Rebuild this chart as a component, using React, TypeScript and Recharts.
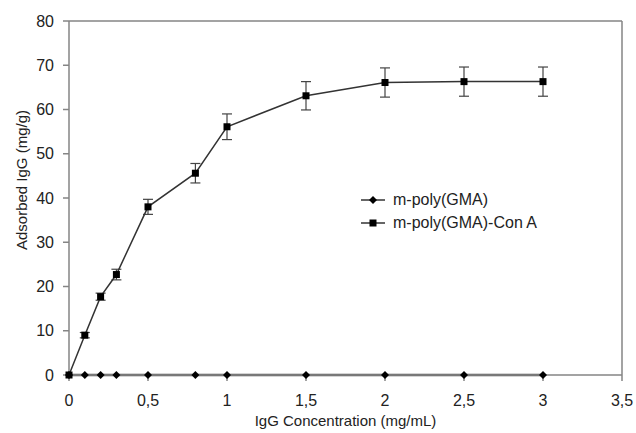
import { ErrorBar, Label, Line, LineChart, ReferenceLine, XAxis, YAxis } from "recharts";

// IgG adsorption isotherm for the two bead types
const concentrations = [0, 0.1, 0.2, 0.3, 0.5, 0.8, 1, 1.5, 2, 2.5, 3];
const adsorbedPlain = [0, 0, 0, 0, 0, 0, 0, 0, 0, 0, 0];
const adsorbedConA = [0, 9, 17.7, 22.7, 38, 45.6, 56.1, 63.1, 66.1, 66.3, 66.3];
const conAError = [0, 0.6, 0.8, 1.2, 1.7, 2.2, 2.9, 3.2, 3.3, 3.3, 3.3];

const xTicks = [0, 0.5, 1, 1.5, 2, 2.5, 3, 3.5];
const yTicks = [0, 10, 20, 30, 40, 50, 60, 70, 80];

const seriesNames = ["m-poly(GMA)", "m-poly(GMA)-Con A"];

const chartData = concentrations.map((c, i) => ({
  c,
  plain: adsorbedPlain[i],
  conA: adsorbedConA[i],
  conAErr: conAError[i],
}));

const FONT = "'Liberation Sans', Arial, sans-serif";
const AXIS = "#858585";
const INK = "#222";

const fmtComma = (v: number) => String(v).replace(".", ",");

function Diamond({ cx, cy }: { cx?: number; cy?: number }) {
  if (cx == null || cy == null) return null;
  const r = 4;
  return <path d={`M${cx},${cy - r}L${cx + r},${cy}L${cx},${cy + r}L${cx - r},${cy}Z`} fill="#000" />;
}

function Square({ cx, cy }: { cx?: number; cy?: number }) {
  if (cx == null || cy == null) return null;
  const s = 7;
  return <rect x={cx - s / 2} y={cy - s / 2} width={s} height={s} fill="#000" />;
}

function LegendBox() {
  const rows = [
    { name: seriesNames[0], Mark: Diamond },
    { name: seriesNames[1], Mark: Square },
  ];
  return (
    <div
      style={{
        position: "absolute",
        left: 359,
        top: 188,
        fontFamily: FONT,
        fontSize: 16,
        color: INK,
      }}
    >
      {rows.map(({ name, Mark }) => (
        <div key={name} style={{ display: "flex", alignItems: "center", height: 23 }}>
          <svg width={30} height={12} style={{ marginRight: 4 }}>
            <line x1={2} y1={6} x2={26} y2={6} stroke="#333" strokeWidth={1.5} />
            <Mark cx={14} cy={6} />
          </svg>
          <span>{name}</span>
        </div>
      ))}
    </div>
  );
}

export default function App() {
  return (
    <div style={{ position: "absolute", left: 0, top: 0, width: 636, height: 433, background: "#fff" }}>
      <LineChart
        width={636}
        height={433}
        data={chartData}
        margin={{ top: 21, right: 14, left: 9, bottom: 8 }}
      >
        <XAxis
          dataKey="c"
          type="number"
          domain={[0, 3.5]}
          ticks={xTicks}
          tickFormatter={fmtComma}
          stroke={AXIS}
          strokeWidth={1.5}
          tickSize={6}
          tickMargin={14}
          height={50}
          tick={{ fill: INK, fontSize: 16, fontFamily: FONT }}
        >
          <Label
            value="IgG Concentration (mg/mL)"
            position="insideBottom"
            offset={-1}
            style={{ fill: INK, fontSize: 15, fontFamily: FONT }}
          />
        </XAxis>
        <YAxis
          type="number"
          domain={[0, 80]}
          ticks={yTicks}
          width={60}
          stroke={AXIS}
          strokeWidth={1.5}
          tickSize={6}
          tickMargin={9}
          tick={{ fill: INK, fontSize: 16, fontFamily: FONT }}
        >
          <Label
            content={({ viewBox }: any) => {
              const x = viewBox.x + 12;
              const y = viewBox.y + viewBox.height / 2 - 18;
              return (
                <text
                  x={x}
                  y={y}
                  transform={`rotate(-90 ${x} ${y})`}
                  textAnchor="middle"
                  dominantBaseline="central"
                  style={{ fill: INK, fontSize: 15, fontFamily: FONT }}
                >
                  Adsorbed IgG (mg/g)
                </text>
              );
            }}
          />
        </YAxis>
        <ReferenceLine y={80} stroke={AXIS} strokeWidth={1.5} ifOverflow="visible" />
        <ReferenceLine x={3.5} stroke={AXIS} strokeWidth={1.5} ifOverflow="visible" />
        <Line
          dataKey="plain"
          name={seriesNames[0]}
          stroke="#555"
          strokeWidth={2.5}
          dot={<Diamond />}
          activeDot={false}
          isAnimationActive={false}
        />
        <Line
          dataKey="conA"
          name={seriesNames[1]}
          stroke="#333"
          strokeWidth={1.5}
          dot={<Square />}
          activeDot={false}
          isAnimationActive={false}
        >
          <ErrorBar dataKey="conAErr" direction="y" width={5} stroke="#444" strokeWidth={1.2} />
        </Line>
      </LineChart>
      <LegendBox />
    </div>
  );
}
